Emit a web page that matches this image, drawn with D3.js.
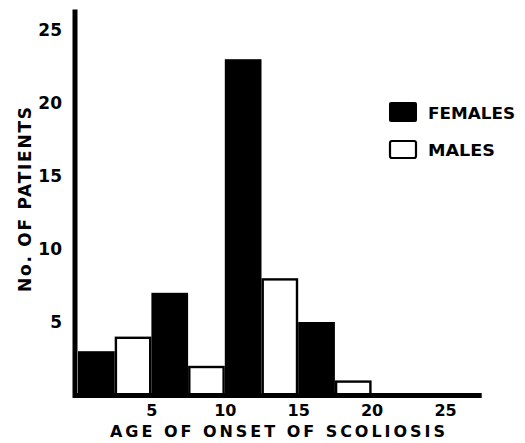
<html>
<head>
<script src="https://cdn.jsdelivr.net/npm/d3@7"></script>
<style>
  body { margin: 0; background: #fff; }
  svg text { font-family: "DejaVu Sans", sans-serif; font-weight: bold; fill: #000; }
</style>
</head>
<body>
<svg id="chart"></svg>
<script>
// age groups (start of each 5-year span), female bar in first half, male in second
var ageStarts = [0, 5, 10, 15, 20];
var females = [3, 7, 23, 5, 0];
var males = [4, 2, 8, 1, 0];
var xTicks = [5, 10, 15, 20, 25];
var yTicks = [5, 10, 15, 20, 25];
var legendItems = ["FEMALES", "MALES"];
var legendWidths = [87, 67];

var W = 525, H = 443;
var svg = d3.select("#chart").attr("width", W).attr("height", H);

var x = d3.scaleLinear().domain([0, 25]).range([78, 445]);
var y = d3.scaleLinear().domain([0, 25]).range([395, 30]);

// female bars
svg.append("g").selectAll("rect")
   .data(ageStarts)
   .join("rect")
   .attr("x", function (d) { return x(d); })
   .attr("width", function (d) { return x(d + 2.5) - x(d); })
   .attr("y", function (d, i) { return y(females[i]); })
   .attr("height", function (d, i) { return y(0) - y(females[i]); })
   .attr("fill", "#000");

// male bars (open)
svg.append("g").selectAll("rect")
   .data(ageStarts.filter(function (d, i) { return males[i] > 0; }))
   .join("rect")
   .attr("x", function (d) { return x(d + 2.5) + 1.2; })
   .attr("width", function (d) { return x(d + 5) - x(d + 2.5) - 2.4; })
   .attr("y", function (d) { return y(males[ageStarts.indexOf(d)]) + 1.2; })
   .attr("height", function (d) { return y(0) - y(males[ageStarts.indexOf(d)]); })
   .attr("fill", "#fff")
   .attr("stroke", "#000")
   .attr("stroke-width", 2.4);

// axis lines
svg.append("line")
   .attr("x1", x(0) - 3).attr("x2", x(0) - 3)
   .attr("y1", y(26.4)).attr("y2", y(0) + 3)
   .attr("stroke", "#000").attr("stroke-width", 5);
svg.append("line")
   .attr("x1", x(0) - 5).attr("x2", x(27.5))
   .attr("y1", y(0) + 0.5).attr("y2", y(0) + 0.5)
   .attr("stroke", "#000").attr("stroke-width", 5);

// axes (labels only)
var xAxis = svg.append("g")
   .attr("transform", "translate(0," + y(0) + ")")
   .call(d3.axisBottom(x).tickValues(xTicks).tickSize(0).tickPadding(10));
xAxis.select(".domain").remove();
xAxis.selectAll("text").attr("font-size", 16).attr("font-family", null);

var yAxis = svg.append("g")
   .attr("transform", "translate(" + 62 + ",0)")
   .call(d3.axisLeft(y).tickValues(yTicks).tickSize(0).tickPadding(0));
yAxis.select(".domain").remove();
yAxis.selectAll("text").attr("font-size", 17).attr("font-family", null);

// axis titles
svg.append("text")
   .attr("x", 110).attr("y", 437)
   .attr("font-size", 16)
   .attr("textLength", 335).attr("lengthAdjust", "spacing")
   .text("AGE OF ONSET OF SCOLIOSIS");

svg.append("text")
   .attr("transform", "translate(31,292) rotate(-90)")
   .attr("font-size", 17)
   .attr("textLength", 185).attr("lengthAdjust", "spacing")
   .text("No. OF PATIENTS");

// legend
var legend = svg.append("g").attr("transform", "translate(389,102)");
legend.append("rect")
   .attr("x", 0).attr("y", 0).attr("width", 28).attr("height", 20)
   .attr("rx", 2).attr("fill", "#000");
legend.append("rect")
   .attr("x", 1).attr("y", 39).attr("width", 26).attr("height", 17)
   .attr("rx", 2).attr("fill", "#fff").attr("stroke", "#000").attr("stroke-width", 2.2);
legend.selectAll("text.lab")
   .data(legendItems)
   .join("text")
   .attr("class", "lab")
   .attr("x", 39)
   .attr("y", function (d, i) { return 17 + i * 37; })
   .attr("font-size", 15)
   .attr("textLength", function (d, i) { return legendWidths[i]; })
   .attr("lengthAdjust", "spacingAndGlyphs")
   .text(function (d) { return d; });
</script>
</body>
</html>
